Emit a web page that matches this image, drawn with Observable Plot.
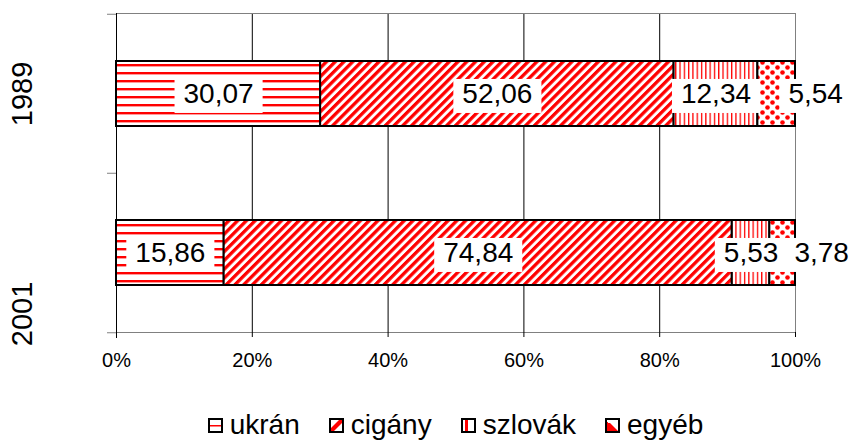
<!DOCTYPE html>
<html>
<head>
<meta charset="utf-8">
<script src="https://cdn.jsdelivr.net/npm/d3@7"></script>
<script src="https://cdn.jsdelivr.net/npm/@observablehq/plot@0.6"></script>
<style>
  html, body { margin: 0; padding: 0; background: #fff; }
  #chart { width: 855px; height: 443px; position: relative; overflow: hidden; font-family: "Liberation Sans", Arial, sans-serif; }
  #chart svg { display: block; }
  .legend { position: absolute; left: 0; top: 395px; width: 855px; height: 48px; box-sizing: border-box;
            padding-left: 56px; padding-top: 18px; display: flex; justify-content: center; align-items: flex-start;
            font-size: 28px; line-height: 24px; color: #000; }
  .legend .item { display: flex; align-items: center; margin-right: 29px; white-space: nowrap; height: 24px; }
  .legend .item:last-child { margin-right: 0; }
  .legend svg { margin-right: 7px; }
</style>
</head>
<body>
<div id="chart"></div>
<script>
// ---- data ----
const years = ["1989", "2001"];
const groups = ["ukrán", "cigány", "szlovák", "egyéb"];
const values1989 = [30.07, 52.06, 12.34, 5.54];
const values2001 = [15.86, 74.84, 5.53, 3.78];
const xTicks = [0, 0.2, 0.4, 0.6, 0.8, 1];
const patternIds = ["p-ukran", "p-cigany", "p-szlovak", "p-egyeb"];

const seriesByYear = [values1989, values2001];
const rows = years.flatMap((year, i) => groups.map((group, j) => ({year, group, value: seriesByYear[i][j]})));
const lastGroup = groups[groups.length - 1];
const fmt = v => v.toFixed(2).replace(".", ",");
const patFill = d => `url(#${patternIds[groups.indexOf(d.group)]})`;

const W = 855, H = 395, mTop = 13, mBottom = 63;
const step = (H - mTop - mBottom) / years.length;

const plot = Plot.plot({
  width: W, height: H,
  marginLeft: 116, marginRight: 60, marginTop: mTop, marginBottom: mBottom,
  style: {fontFamily: "'Liberation Sans', Arial, sans-serif", fontSize: "20px", color: "#000", background: "#fff", overflow: "visible"},
  x: {domain: [0, 1], label: null},
  y: {domain: years, paddingInner: 0.5925, paddingOuter: 0.296, align: 0.5, label: null},
  color: {type: "identity"},
  marks: [
    Plot.gridX(xTicks.filter(t => t > 0 && t < 1), {stroke: "#000", strokeOpacity: 1}),
    Plot.frame({stroke: "#808080"}),
    Plot.barX(rows, Plot.stackX({x: "value", y: "year", z: "group", offset: "normalize", fill: patFill, stroke: "#000", strokeWidth: 2})),
    Plot.ruleX([0], {stroke: "#000", insetBottom: -6}),
    Plot.axisX(xTicks, {tickFormat: d3.format(".0%"), tickSize: 5, tickPadding: 15, stroke: "#000", fill: "#000", label: null}),
    Plot.axisY(years, {tickFormat: () => "", tickSize: 9, dy: -step / 2, stroke: "#808080", label: null}),
    Plot.axisY(years.slice(-1), {tickFormat: () => "", tickSize: 9, dy: step / 2, stroke: "#808080", label: null}),
    Plot.text(years.slice(0, 1), {y: d => d, text: d => d, frameAnchor: "left", textAnchor: "middle", lineAnchor: "middle", dx: -94, rotate: -90, fontSize: 29, fill: "#000"}),
    Plot.text(years.slice(1), {y: d => d, text: d => d, frameAnchor: "left", textAnchor: "middle", lineAnchor: "middle", dx: -94, dy: 61, rotate: -90, fontSize: 29, fill: "#000"}),
    Plot.text(rows, Plot.stackX({x: "value", y: "year", z: "group", offset: "normalize",
      text: d => d.group === lastGroup ? null : fmt(d.value), fontSize: 28, fill: "#000", ariaDescription: "vlabel"})),
    Plot.text(rows, Plot.stackX({x: "value", y: "year", z: "group", offset: "normalize",
      text: d => d.group === lastGroup ? fmt(d.value) : null, dx: 39, fontSize: 28, fill: "#000", ariaDescription: "vlabel"}))
  ]
});

const root = document.getElementById("chart");
root.append(plot);

const ns = "http://www.w3.org/2000/svg";
const defs = document.createElementNS(ns, "defs");
defs.innerHTML = `
<pattern id="p-ukran" patternUnits="userSpaceOnUse" width="8" height="8">
  <rect width="8" height="8" fill="#fff"/>
  <rect y="0" width="8" height="2" fill="#ff0000"/>
  <rect y="2" width="8" height="1" fill="#ff9a9a"/>
</pattern>
<pattern id="p-cigany" patternUnits="userSpaceOnUse" width="6.2" height="6.2" patternTransform="rotate(45)">
  <rect width="6.2" height="6.2" fill="#fff"/>
  <rect width="3.3" height="6.2" fill="#ff0000"/>
</pattern>
<pattern id="p-szlovak" patternUnits="userSpaceOnUse" width="4.3" height="4">
  <rect width="4.3" height="4" fill="#fff"/>
  <rect width="1.3" height="4" fill="#ff0000"/>
</pattern>
<pattern id="p-egyeb" patternUnits="userSpaceOnUse" width="10" height="10">
  <rect width="10" height="10" fill="#fff"/>
  <circle cx="2.5" cy="2.5" r="2.3" fill="#ff0000"/>
  <circle cx="7.5" cy="7.5" r="2.3" fill="#ff0000"/>
</pattern>`;
plot.insertBefore(defs, plot.firstChild);

// white boxes behind value labels
plot.querySelectorAll('g[aria-description="vlabel"] text').forEach(t => {
  const b = t.getBBox();
  const r = document.createElementNS(ns, "rect");
  r.setAttribute("x", b.x - 9);
  r.setAttribute("y", b.y + 1);
  r.setAttribute("width", b.width + 18);
  r.setAttribute("height", b.height + 3);
  r.setAttribute("fill", "#fff");
  r.setAttribute("stroke", "none");
  if (t.getAttribute("transform")) r.setAttribute("transform", t.getAttribute("transform"));
  t.parentNode.insertBefore(r, t);
});

// legend
const swatches = [
  `<rect x="1" y="1" width="13" height="13" fill="#fff"/><rect x="1" y="7" width="13" height="1.5" fill="#ff0000"/>`,
  `<rect x="1" y="1" width="13" height="13" fill="#fff"/><polygon points="1,11 11,1 14,1 14,4 4,14 1,14" fill="#ff0000"/>`,
  `<rect x="1" y="1" width="13" height="13" fill="#fff"/><rect x="4" y="1" width="3" height="13" fill="#ff0000"/>`,
  `<rect x="1" y="1" width="13" height="13" fill="#fff"/><polygon points="1,4 4,4 14,14 1,14" fill="#ff0000"/><rect x="3" y="3" width="2" height="2" fill="#fff"/>`
];
const legend = document.createElement("div");
legend.className = "legend";
groups.forEach((g, i) => {
  const item = document.createElement("div");
  item.className = "item";
  item.innerHTML = `<svg width="15" height="15" viewBox="0 0 15 15">${swatches[i]}<rect x="1" y="1" width="13" height="13" fill="none" stroke="#000" stroke-width="2"/></svg><span>${g}</span>`;
  legend.append(item);
});
root.append(legend);
</script>
</body>
</html>
